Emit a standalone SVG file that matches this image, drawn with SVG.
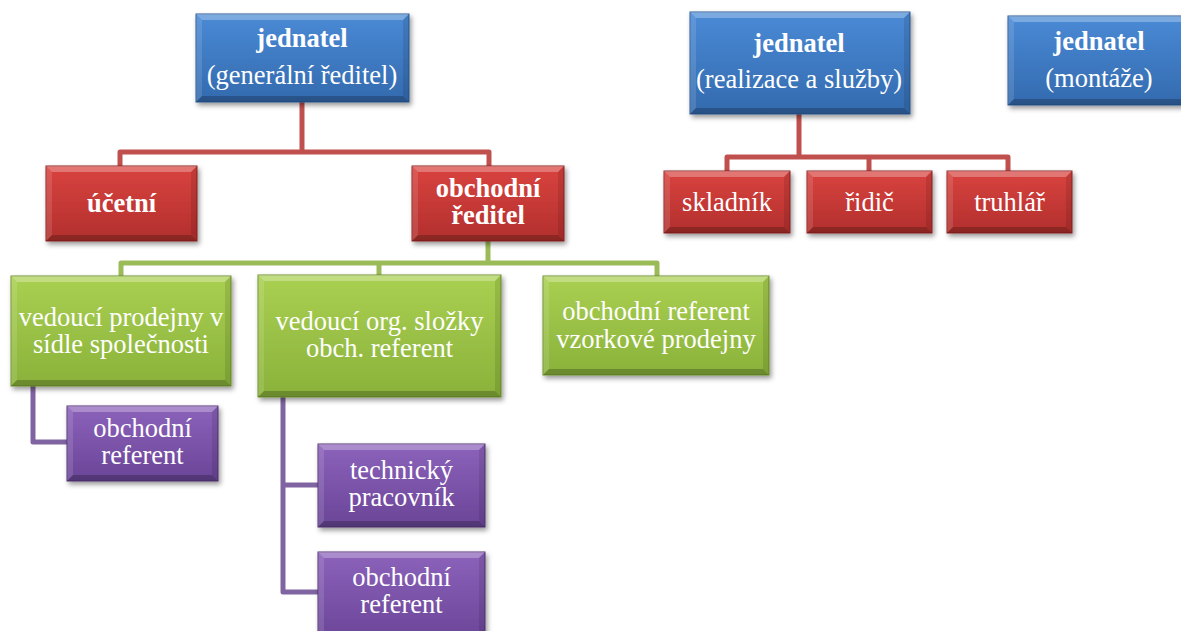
<svg xmlns="http://www.w3.org/2000/svg" width="1181" height="631" viewBox="0 0 1181 631">
<defs>
<linearGradient id="gBlue" x1="0" y1="0" x2="0" y2="1"><stop offset="0" stop-color="#4a8ad6"/><stop offset="1" stop-color="#336aae"/></linearGradient>
<linearGradient id="gRed" x1="0" y1="0" x2="0" y2="1"><stop offset="0" stop-color="#d9433f"/><stop offset="1" stop-color="#b22f2d"/></linearGradient>
<linearGradient id="gGreen" x1="0" y1="0" x2="0" y2="1"><stop offset="0" stop-color="#aad052"/><stop offset="1" stop-color="#8ab23a"/></linearGradient>
<linearGradient id="gPurple" x1="0" y1="0" x2="0" y2="1"><stop offset="0" stop-color="#8c62bb"/><stop offset="1" stop-color="#6a4597"/></linearGradient>
<filter id="sh" x="-10%" y="-10%" width="125%" height="135%"><feDropShadow dx="2" dy="3" stdDeviation="2.5" flood-color="#000" flood-opacity="0.4"/></filter>
</defs>
<style>
.box{filter:url(#sh);stroke-width:1}
.blue{fill:url(#gBlue);stroke:#2b5a93}
.red{fill:url(#gRed);stroke:#8e2523}
.green{fill:url(#gGreen);stroke:#6e8f2e}
.purple{fill:url(#gPurple);stroke:#523574}
.hl{fill:#ffffff;opacity:0.28}
.hs{fill:#ffffff;opacity:0.12}
.dk{fill:#000000;opacity:0.22}
.ds{fill:#000000;opacity:0.1}
text{font-family:"Liberation Serif","Times New Roman",serif;font-size:26.5px;fill:#ffffff;text-anchor:middle}
.b{font-weight:bold}
.n{font-weight:normal}
.con{fill:none;stroke-width:5;stroke-linejoin:round}
.cr{stroke:#c0504d}
.cg{stroke:#9bbb59}
.cp{stroke:#8064a2}
</style>

<g id="connectors">
<path class="con cr" d="M302,102 V152 M120,166 V152 H489 V166"/>
<path class="con cr" d="M799,114 V157 M727,171 V157 H1008 V171 M869,157 V171"/>
<path class="con cg" d="M488,241 V263 M121,276 V263 H657 V276 M379,263 V275"/>
<path class="con cp" d="M33,386 V442 H67"/>
<path class="con cp" d="M283,397 V592 H318 M283,485 H318"/>
</g>

<g id="n_gen">
<rect class="box blue" x="196" y="14" width="213" height="88"/>
<polygon class="hl" points="196,14 409,14 403,20 202,20"/>
<polygon class="hs" points="196,14 202,20 202,96 196,102"/>
<polygon class="dk" points="196,102 202,96 403,96 409,102"/>
<polygon class="ds" points="409,14 409,102 403,96 403,20"/>
<text x="302" y="47"><tspan class="b">jednatel</tspan><tspan class="n" x="302" dy="37">(generální ředitel)</tspan></text>
</g>

<g id="n_real">
<rect class="box blue" x="690" y="12" width="220" height="102"/>
<polygon class="hl" points="690,12 910,12 904,18 696,18"/>
<polygon class="hs" points="690,12 696,18 696,108 690,114"/>
<polygon class="dk" points="690,114 696,108 904,108 910,114"/>
<polygon class="ds" points="910,12 910,114 904,108 904,18"/>
<text x="799" y="52"><tspan class="b">jednatel</tspan><tspan class="n" x="799" dy="36">(realizace a služby)</tspan></text>
</g>

<g id="n_mont">
<rect class="box blue" x="1008" y="16" width="186" height="89"/>
<polygon class="hl" points="1008,16 1194,16 1188,22 1014,22"/>
<polygon class="hs" points="1008,16 1014,22 1014,99 1008,105"/>
<polygon class="dk" points="1008,105 1014,99 1188,99 1194,105"/>
<text x="1099" y="50"><tspan class="b">jednatel</tspan><tspan class="n" x="1099" dy="37">(montáže)</tspan></text>
</g>

<g id="n_ucetni">
<rect class="box red" x="46" y="166" width="151" height="75"/>
<polygon class="hl" points="46,166 197,166 191,172 52,172"/>
<polygon class="hs" points="46,166 52,172 52,235 46,241"/>
<polygon class="dk" points="46,241 52,235 191,235 197,241"/>
<polygon class="ds" points="197,166 197,241 191,235 191,172"/>
<text class="b" x="121.5" y="212">účetní</text>
</g>

<g id="n_obred">
<rect class="box red" x="412" y="166" width="152" height="75"/>
<polygon class="hl" points="412,166 564,166 558,172 418,172"/>
<polygon class="hs" points="412,166 418,172 418,235 412,241"/>
<polygon class="dk" points="412,241 418,235 558,235 564,241"/>
<polygon class="ds" points="564,166 564,241 558,235 558,172"/>
<text class="b" x="488" y="197">obchodní<tspan x="488" dy="27">ředitel</tspan></text>
</g>

<g id="n_sklad">
<rect class="box red" x="664" y="171" width="126" height="62"/>
<polygon class="hl" points="664,171 790,171 784,177 670,177"/>
<polygon class="hs" points="664,171 670,177 670,227 664,233"/>
<polygon class="dk" points="664,233 670,227 784,227 790,233"/>
<polygon class="ds" points="790,171 790,233 784,227 784,177"/>
<text x="727" y="211">skladník</text>
</g>

<g id="n_ridic">
<rect class="box red" x="807" y="171" width="125" height="62"/>
<polygon class="hl" points="807,171 932,171 926,177 813,177"/>
<polygon class="hs" points="807,171 813,177 813,227 807,233"/>
<polygon class="dk" points="807,233 813,227 926,227 932,233"/>
<polygon class="ds" points="932,171 932,233 926,227 926,177"/>
<text x="869.5" y="211">řidič</text>
</g>

<g id="n_truhl">
<rect class="box red" x="947" y="171" width="125" height="62"/>
<polygon class="hl" points="947,171 1072,171 1066,177 953,177"/>
<polygon class="hs" points="947,171 953,177 953,227 947,233"/>
<polygon class="dk" points="947,233 953,227 1066,227 1072,233"/>
<polygon class="ds" points="1072,171 1072,233 1066,227 1066,177"/>
<text x="1009.5" y="211">truhlář</text>
</g>

<g id="n_vedprod">
<rect class="box green" x="11" y="276" width="220" height="110"/>
<polygon class="hl" points="11,276 231,276 225,282 17,282"/>
<polygon class="hs" points="11,276 17,282 17,380 11,386"/>
<polygon class="dk" points="11,386 17,380 225,380 231,386"/>
<polygon class="ds" points="231,276 231,386 225,380 225,282"/>
<text x="121" y="326">vedoucí prodejny v<tspan x="121" dy="27">sídle společnosti</tspan></text>
</g>

<g id="n_vedorg">
<rect class="box green" x="258" y="275" width="243" height="122"/>
<polygon class="hl" points="258,275 501,275 495,281 264,281"/>
<polygon class="hs" points="258,275 264,281 264,391 258,397"/>
<polygon class="dk" points="258,397 264,391 495,391 501,397"/>
<polygon class="ds" points="501,275 501,397 495,391 495,281"/>
<text x="379.5" y="330">vedoucí org. složky<tspan x="379.5" dy="27">obch. referent</tspan></text>
</g>

<g id="n_vzork">
<rect class="box green" x="543" y="276" width="226" height="99"/>
<polygon class="hl" points="543,276 769,276 763,282 549,282"/>
<polygon class="hs" points="543,276 549,282 549,369 543,375"/>
<polygon class="dk" points="543,375 549,369 763,369 769,375"/>
<polygon class="ds" points="769,276 769,375 763,369 763,282"/>
<text x="656" y="320">obchodní referent<tspan x="656" dy="28">vzorkové prodejny</tspan></text>
</g>

<g id="n_obref1">
<rect class="box purple" x="67" y="406" width="151" height="75"/>
<polygon class="hl" points="67,406 218,406 212,412 73,412"/>
<polygon class="hs" points="67,406 73,412 73,475 67,481"/>
<polygon class="dk" points="67,481 73,475 212,475 218,481"/>
<polygon class="ds" points="218,406 218,481 212,475 212,412"/>
<text x="142.5" y="437">obchodní<tspan x="142.5" dy="27">referent</tspan></text>
</g>

<g id="n_tech">
<rect class="box purple" x="318" y="444" width="167" height="83"/>
<polygon class="hl" points="318,444 485,444 479,450 324,450"/>
<polygon class="hs" points="318,444 324,450 324,521 318,527"/>
<polygon class="dk" points="318,527 324,521 479,521 485,527"/>
<polygon class="ds" points="485,444 485,527 479,521 479,450"/>
<text x="401.5" y="479">technický<tspan x="401.5" dy="27">pracovník</tspan></text>
</g>

<g id="n_obref2">
<rect class="box purple" x="318" y="552" width="167" height="90"/>
<polygon class="hl" points="318,552 485,552 479,558 324,558"/>
<polygon class="hs" points="318,552 324,558 324,642 318,642"/>
<polygon class="ds" points="485,552 485,642 479,642 479,558"/>
<text x="401.5" y="586">obchodní<tspan x="401.5" dy="27">referent</tspan></text>
</g>
</svg>
